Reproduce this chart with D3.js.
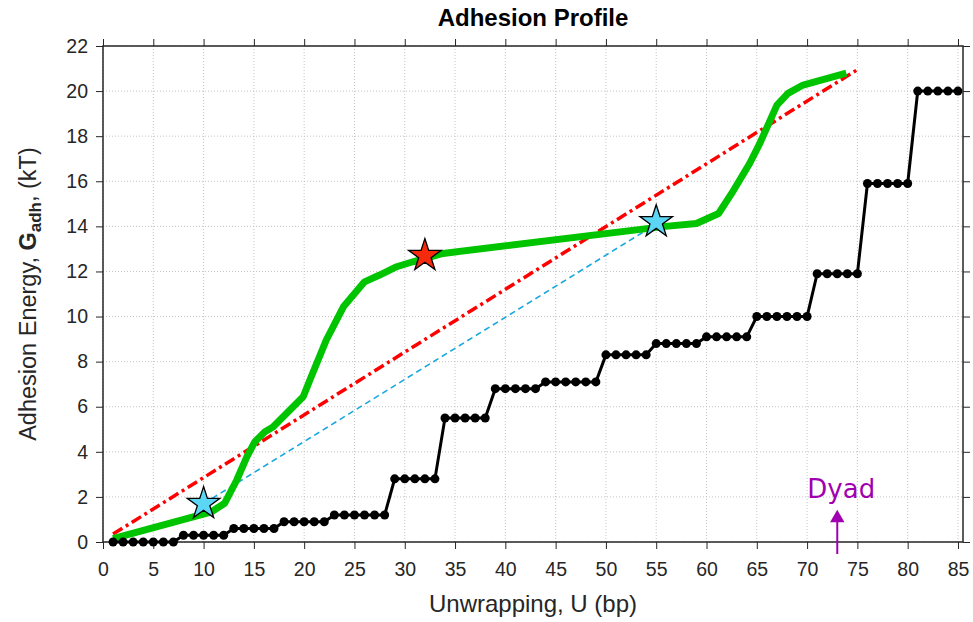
<!DOCTYPE html>
<html>
<head>
<meta charset="utf-8">
<script src="https://cdn.jsdelivr.net/npm/d3@7.9.0/dist/d3.min.js"></script>
<style>
  body { margin: 0; background: #fff; }
  svg { display: block; font-family: "Liberation Sans", Arial, sans-serif; }
</style>
</head>
<body>
<svg id="chart" width="973" height="622"></svg>
<script>
// step data (black markers): U = 1..85
const stepU = d3.range(1, 86);
const stepG = [
  0, 0, 0, 0, 0, 0, 0,            // 1-7
  0.3, 0.3, 0.3, 0.3, 0.3,        // 8-12
  0.6, 0.6, 0.6, 0.6, 0.6,        // 13-17
  0.9, 0.9, 0.9, 0.9, 0.9,        // 18-22
  1.2, 1.2, 1.2, 1.2, 1.2, 1.2,   // 23-28
  2.8, 2.8, 2.8, 2.8, 2.8,        // 29-33
  5.5, 5.5, 5.5, 5.5, 5.5,        // 34-38
  6.8, 6.8, 6.8, 6.8, 6.8,        // 39-43
  7.1, 7.1, 7.1, 7.1, 7.1, 7.1,   // 44-49
  8.3, 8.3, 8.3, 8.3, 8.3,        // 50-54
  8.8, 8.8, 8.8, 8.8, 8.8,        // 55-59
  9.1, 9.1, 9.1, 9.1, 9.1,        // 60-64
  10, 10, 10, 10, 10, 10,         // 65-70
  11.9, 11.9, 11.9, 11.9, 11.9,   // 71-75
  15.9, 15.9, 15.9, 15.9, 15.9,   // 76-80
  20, 20, 20, 20, 20              // 81-85
];

// smooth profile (green)
const smoothU = [1, 10.8, 12.1, 13.3, 14.3, 15.1, 16.1, 16.9, 19.9, 20.7, 22.2, 23.9, 26.0, 27.5, 29.2, 30.8, 33.8, 55.9, 59, 61.2, 62.5, 64.3, 65.3, 67, 68.1, 69.6, 73.9];
const smoothG = [0.15, 1.34, 1.72, 2.75, 3.78, 4.45, 4.89, 5.1, 6.44, 7.33, 8.96, 10.43, 11.54, 11.84, 12.21, 12.43, 12.8, 14.0, 14.13, 14.57, 15.46, 16.8, 17.68, 19.38, 19.9, 20.27, 20.8];

// linear fit (red) and chord (blue)
const fitU = [1, 75];
const fitG = [0.35, 20.95];
const chordU = [10, 55];
const chordG = [1.7, 14.1];

// stars
const starU = [10, 32, 55];
const starG = [1.7, 12.7, 14.2];
const starFill = ["#5cd6f5", "#f5290b", "#5cd6f5"];

const xTicks = d3.range(0, 86, 5);
const yTicks = d3.range(0, 23, 2);

const W = 973, H = 622;
const margin = { top: 46, right: 10, bottom: 80, left: 103 };
const svg = d3.select("#chart");
const iw = W - margin.left - margin.right;
const ih = H - margin.top - margin.bottom;

const x = d3.scaleLinear().domain([0, 85.5]).range([margin.left, margin.left + iw]);
const y = d3.scaleLinear().domain([0, 22]).range([margin.top + ih, margin.top]);

// grid
const grid = svg.append("g").attr("stroke", "#bdbdbd").attr("stroke-width", 0.9).attr("stroke-dasharray", "1,2");
xTicks.forEach(t => grid.append("line").attr("x1", x(t)).attr("x2", x(t)).attr("y1", y(0)).attr("y2", y(22)));
yTicks.forEach(t => grid.append("line").attr("x1", x(0)).attr("x2", x(85.5)).attr("y1", y(t)).attr("y2", y(t)));

// axes
const axCol = "#262626";
function styleAxis(g) {
  g.select(".domain").remove();
  g.selectAll("line").attr("stroke", axCol).attr("stroke-width", 1);
  g.selectAll("text").attr("fill", axCol).attr("font-size", 19.5);
}
svg.append("g").attr("transform", `translate(0,${y(0)})`)
  .call(d3.axisBottom(x).tickValues(xTicks).tickSize(7).tickPadding(13)).call(styleAxis);
svg.append("g").attr("transform", `translate(0,${y(22)})`)
  .call(d3.axisTop(x).tickValues(xTicks).tickSize(7).tickFormat("")).call(styleAxis);
svg.append("g").attr("transform", `translate(${x(0)},0)`)
  .call(d3.axisLeft(y).tickValues(yTicks).tickSize(7).tickPadding(8)).call(styleAxis);
svg.append("g").attr("transform", `translate(${x(85.5)},0)`)
  .call(d3.axisRight(y).tickValues(yTicks).tickSize(7).tickFormat("")).call(styleAxis);

svg.append("rect").attr("x", x(0)).attr("y", y(22)).attr("width", x(85.5) - x(0)).attr("height", y(0) - y(22))
  .attr("fill", "none").attr("stroke", axCol).attr("stroke-width", 1.5);

const line = d3.line().x(d => x(d[0])).y(d => y(d[1]));

// red fit
svg.append("path").attr("d", line(fitU.map((u, i) => [u, fitG[i]])))
  .attr("fill", "none").attr("stroke", "#ff0000").attr("stroke-width", 3.5).attr("stroke-dasharray", "11,4,3,4");

// blue chord
svg.append("path").attr("d", line(chordU.map((u, i) => [u, chordG[i]])))
  .attr("fill", "none").attr("stroke", "#1aa7dd").attr("stroke-width", 1.6).attr("stroke-dasharray", "6,4");

// green smooth
svg.append("path").attr("d", line(smoothU.map((u, i) => [u, smoothG[i]])))
  .attr("fill", "none").attr("stroke", "#00c400").attr("stroke-width", 7).attr("stroke-linecap", "butt").attr("stroke-linejoin", "round");

// black steps
const steps = stepU.map((u, i) => [u, stepG[i]]);
svg.append("path").attr("d", line(steps)).attr("fill", "none").attr("stroke", "#000").attr("stroke-width", 3);
svg.append("g").selectAll("circle").data(steps).join("circle")
  .attr("cx", d => x(d[0])).attr("cy", d => y(d[1])).attr("r", 4.5).attr("fill", "#000");

// stars
const star = d3.symbol().type(d3.symbolStar).size(330);
starU.forEach((u, i) => {
  svg.append("path").attr("d", star()).attr("transform", `translate(${x(u)},${y(starG[i])})`)
    .attr("fill", starFill[i]).attr("stroke", "#000").attr("stroke-width", 1.3);
});

// Dyad annotation
const dyadU = 73;
svg.append("line").attr("x1", x(dyadU)).attr("x2", x(dyadU)).attr("y1", y(0) + 12).attr("y2", y(0) - 22)
  .attr("stroke", "#a000b0").attr("stroke-width", 2);
svg.append("path").attr("d", d3.symbol().type(d3.symbolTriangle).size(90)())
  .attr("transform", `translate(${x(dyadU)},${y(0) - 24})`).attr("fill", "#a000b0");
svg.append("text").attr("x", x(dyadU) + 4).attr("y", y(0) - 44).attr("text-anchor", "middle")
  .attr("font-family", "'Comic Sans MS', 'DejaVu Sans', cursive").attr("font-size", 26).attr("fill", "#a000b0").text("Dyad");

// title
svg.append("text").attr("x", (x(0) + x(85.5)) / 2).attr("y", 26).attr("text-anchor", "middle")
  .attr("font-size", 24).attr("font-weight", "bold").attr("fill", "#000").text("Adhesion Profile");

// x label
svg.append("text").attr("x", (x(0) + x(85.5)) / 2).attr("y", 612).attr("text-anchor", "middle")
  .attr("font-size", 24).attr("fill", axCol).text("Unwrapping, U (bp)");

// y label
const yl = svg.append("text").attr("transform", `translate(36,${(y(0) + y(22)) / 2}) rotate(-90)`)
  .attr("text-anchor", "middle").attr("font-size", 23.5).attr("fill", axCol);
yl.append("tspan").text("Adhesion Energy, ");
yl.append("tspan").attr("font-weight", "bold").text("G");
yl.append("tspan").attr("font-weight", "bold").attr("font-size", 17).attr("dy", 5).text("adh");
yl.append("tspan").attr("dy", -5).text(", (kT)");
</script>
</body>
</html>
